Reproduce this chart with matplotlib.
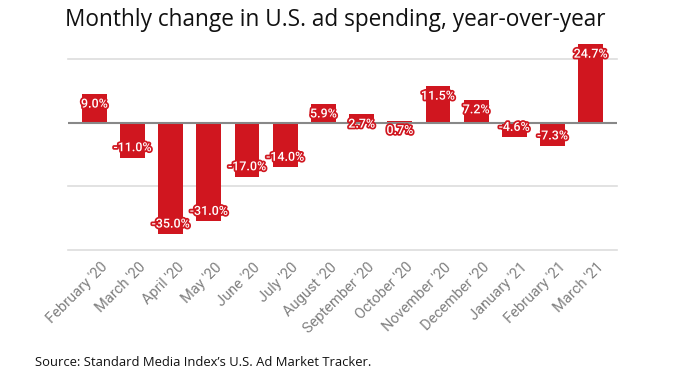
import matplotlib
matplotlib.use("Agg")
import matplotlib.pyplot as plt
import matplotlib.patheffects as pe
import matplotlib.transforms as mtrans

months = ["February '20", "March '20", "April '20", "May '20", "June '20", "July '20",
          "August '20", "September '20", "October '20", "November '20", "December '20",
          "January '21", "February '21", "March '21"]
changes = [9.0, -11.0, -35.0, -31.0, -17.0, -14.0, 5.9, 2.7, 0.7, 11.5, 7.2, -4.6, -7.3, 24.7]
labels = ["9.0%", "-11.0%", "-35.0%", "-31.0%", "-17.0%", "-14.0%", "5.9%", "2.7%", "0.7%",
          "11.5%", "7.2%", "-4.6%", "-7.3%", "24.7%"]
grid_values = [-40, -20, 20]

RED = "#d0161f"

fig = plt.figure(figsize=(6.81, 3.82), dpi=100)
ax = fig.add_axes([68/681, (382-250)/382, (617-68)/681, 210/382])

x = list(range(len(months)))
ax.bar(x, changes, width=0.65, color=RED, zorder=3)

for g in grid_values:
    ax.axhline(g, color="#dddddd", lw=1.2, zorder=1, clip_on=False)
ax.axhline(0, color="#888888", lw=1.5, zorder=4)

for xi, v, lab in zip(x, changes, labels):
    off = -10 if v >= 0 else 10
    ax.annotate(lab, (xi, v), xytext=(0, off), textcoords="offset pixels",
                ha="center", va="center", fontsize=9, fontfamily="Roboto", fontweight="medium",
                color="white", zorder=5,
                path_effects=[pe.withStroke(linewidth=2.5, foreground=RED)])

ax.set_xlim(-0.69, 13.69)
ax.set_ylim(-40, 26)
ax.set_yticks([])
ax.tick_params(axis="x", length=0, pad=0)
ax.set_xticks(x)
ax.set_xticklabels(months, rotation=45, ha="right", va="center", rotation_mode="anchor",
                   fontsize=10.5, fontfamily="Roboto", color="#808080")
offset = mtrans.ScaledTranslation(11/100, -15/100, fig.dpi_scale_trans)
for t in ax.get_xticklabels():
    t.set_transform(t.get_transform() + offset)
for s in ax.spines.values():
    s.set_visible(False)

fig.text(0.493, 0.947, "Monthly change in U.S. ad spending, year-over-year",
         ha="center", va="center", fontsize=16.3, fontfamily="Open Sans", color="#111111")
fig.text(35/681, 1 - 362/382, "Source: Standard Media Index\u2019s U.S. Ad Market Tracker.",
         ha="left", va="center", fontsize=9.4, fontfamily="Open Sans", color="#111111")

fig.savefig("out.png", dpi=100)
